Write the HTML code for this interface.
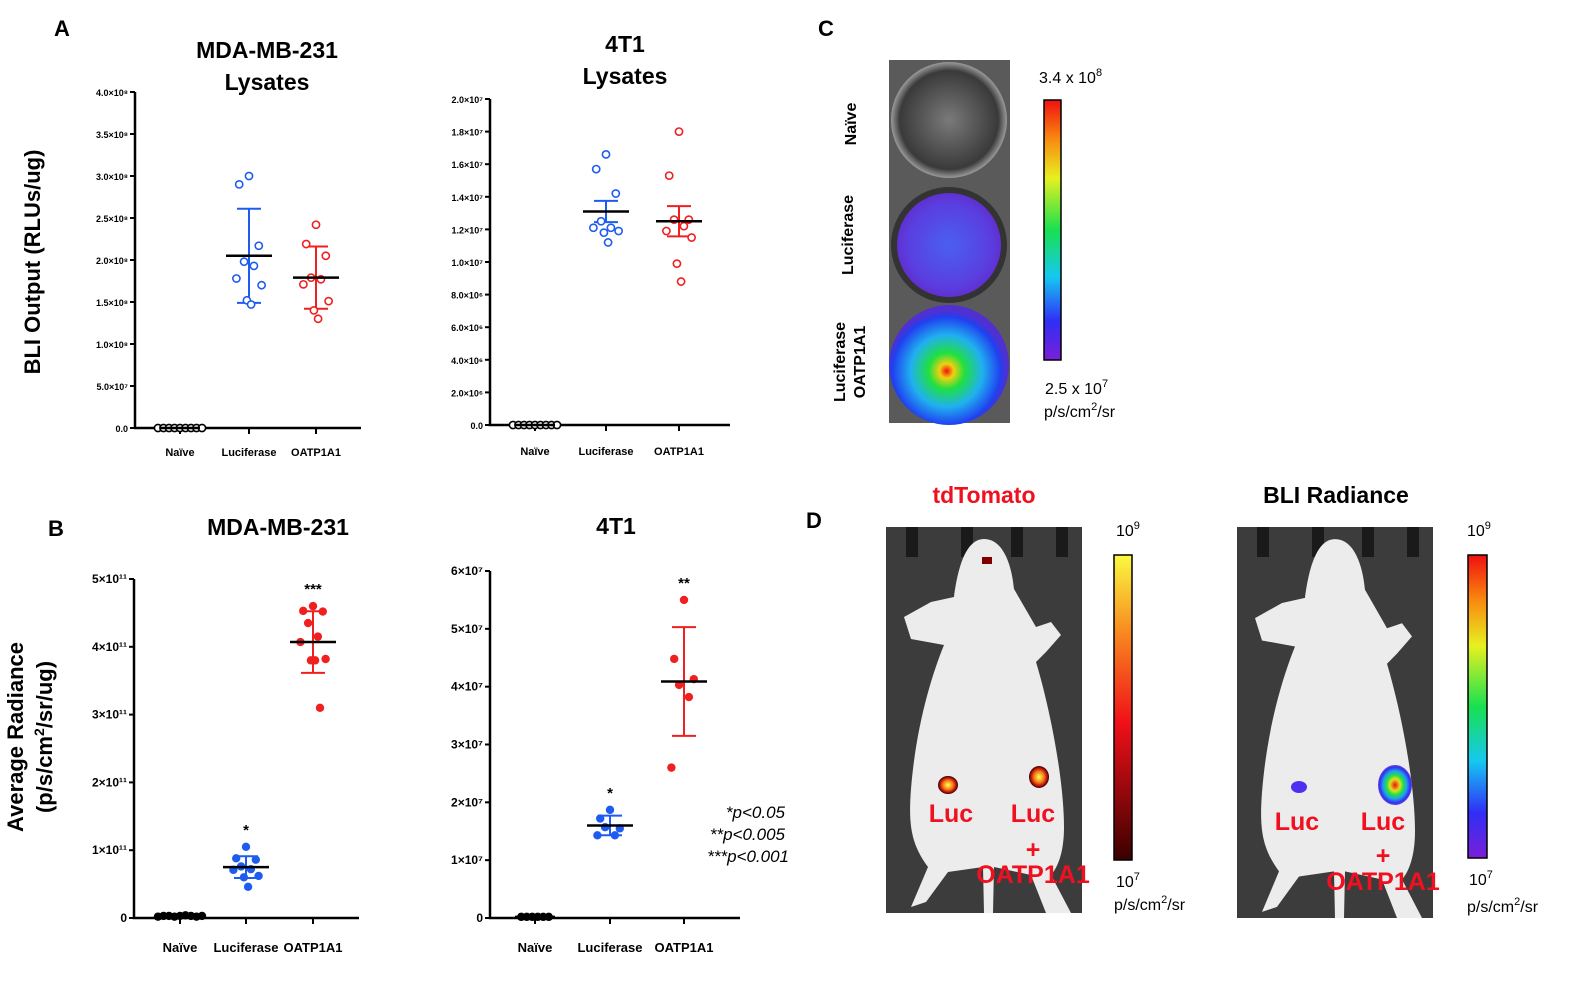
<!DOCTYPE html>
<html><head><meta charset="utf-8">
<style>
html,body{margin:0;padding:0;background:#fff;}
svg{display:block;font-family:"Liberation Sans",Arial,sans-serif;}
.tk{font-size:9px;font-weight:bold;}
.tkb{font-size:12px;font-weight:bold;}
.cat{font-size:11px;font-weight:bold;}
.catb{font-size:13px;font-weight:bold;}
.ttl{font-size:23px;font-weight:bold;}
.pl{font-size:22px;font-weight:bold;}
</style></head>
<body>
<svg id="fig" width="1582" height="986" viewBox="0 0 1582 986" xmlns="http://www.w3.org/2000/svg">
<defs>
<linearGradient id="rainbow" x1="0" y1="1" x2="0" y2="0">
<stop offset="0" stop-color="#7a1fd8"/><stop offset="0.15" stop-color="#2f2ff5"/><stop offset="0.32" stop-color="#16c8f0"/><stop offset="0.5" stop-color="#19e050"/><stop offset="0.7" stop-color="#e8f020"/><stop offset="0.85" stop-color="#f88a10"/><stop offset="1" stop-color="#f01010"/>
</linearGradient>
<linearGradient id="hot" x1="0" y1="1" x2="0" y2="0">
<stop offset="0" stop-color="#3a0000"/><stop offset="0.45" stop-color="#f01018"/><stop offset="0.75" stop-color="#f88a20"/><stop offset="1" stop-color="#fafa40"/>
</linearGradient>
<radialGradient id="wellB"><stop offset="0" stop-color="#4a60f0"/><stop offset="0.8" stop-color="#5a3ee0"/><stop offset="1" stop-color="#6030d0"/></radialGradient>
<radialGradient id="wellC" cx="0.48" cy="0.55"><stop offset="0" stop-color="#f01010"/><stop offset="0.12" stop-color="#f0d010"/><stop offset="0.3" stop-color="#20e040"/><stop offset="0.6" stop-color="#20b0f0"/><stop offset="0.9" stop-color="#2040f0"/><stop offset="1" stop-color="#5030d0"/></radialGradient>
<radialGradient id="wellA"><stop offset="0" stop-color="#7a7a7a"/><stop offset="0.85" stop-color="#3a3a3a"/><stop offset="1" stop-color="#9a9a9a"/></radialGradient>
<radialGradient id="spotHot"><stop offset="0" stop-color="#ffff60"/><stop offset="0.5" stop-color="#f08010"/><stop offset="0.8" stop-color="#c01010"/><stop offset="1" stop-color="#300000"/></radialGradient>
<radialGradient id="spotRb"><stop offset="0" stop-color="#f01010"/><stop offset="0.3" stop-color="#e0e020"/><stop offset="0.5" stop-color="#20e040"/><stop offset="0.7" stop-color="#20a0f0"/><stop offset="0.9" stop-color="#3030f0"/><stop offset="1" stop-color="#7040e0"/></radialGradient>
</defs>

<!-- Panel letters & titles -->
<text x="54" y="36" class="pl">A</text>
<text x="48" y="536" class="pl">B</text>
<text x="818" y="36" class="pl">C</text>
<text x="806" y="528" class="pl">D</text>

<text x="267" y="58" text-anchor="middle" class="ttl">MDA-MB-231</text>
<text x="267" y="90" text-anchor="middle" class="ttl">Lysates</text>
<text x="625" y="52" text-anchor="middle" class="ttl">4T1</text>
<text x="625" y="84" text-anchor="middle" class="ttl">Lysates</text>
<text x="278" y="535" text-anchor="middle" class="ttl">MDA-MB-231</text>
<text x="616" y="534" text-anchor="middle" class="ttl">4T1</text>

<text transform="translate(40,262) rotate(-90)" text-anchor="middle" style="font-size:22px;font-weight:bold">BLI Output (RLUs/ug)</text>
<text transform="translate(23,737) rotate(-90)" text-anchor="middle" style="font-size:22px;font-weight:bold">Average Radiance</text>
<text transform="translate(52,737) rotate(-90)" text-anchor="middle" style="font-size:22px;font-weight:bold">(p/s/cm<tspan dy="-8" font-size="14">2</tspan><tspan dy="8">/sr/ug)</tspan></text>

<g id="charts"></g>

<text x="785" y="818" text-anchor="end" style="font-size:17px;font-style:italic">*p&lt;0.05</text>
<text x="785" y="840" text-anchor="end" style="font-size:17px;font-style:italic">**p&lt;0.005</text>
<text x="789" y="862" text-anchor="end" style="font-size:17px;font-style:italic">***p&lt;0.001</text>

<!-- Panel C -->
<g>
<rect x="889" y="60" width="121" height="363" fill="#5a5a5a"/>
<circle cx="949" cy="120" r="58" fill="url(#wellA)"/>
<circle cx="949" cy="245" r="58" fill="#333"/>
<circle cx="949" cy="245" r="52" fill="url(#wellB)"/>
<circle cx="949" cy="365" r="60" fill="url(#wellC)"/>
</g>
<text transform="translate(856,124) rotate(-90)" text-anchor="middle" style="font-size:16px;font-weight:bold">Naïve</text>
<text transform="translate(853,235) rotate(-90)" text-anchor="middle" style="font-size:16px;font-weight:bold">Luciferase</text>
<text transform="translate(845,362) rotate(-90)" text-anchor="middle" style="font-size:16px;font-weight:bold">Luciferase</text>
<text transform="translate(865,362) rotate(-90)" text-anchor="middle" style="font-size:16px;font-weight:bold">OATP1A1</text>
<rect x="1044" y="100" width="17" height="260" fill="url(#rainbow)" stroke="#000" stroke-width="1.5"/>
<text x="1039" y="83" style="font-size:16px">3.4 x 10<tspan dy="-7" font-size="11">8</tspan></text>
<text x="1045" y="394" style="font-size:16px">2.5 x 10<tspan dy="-7" font-size="11">7</tspan></text>
<text x="1044" y="417" style="font-size:16px">p/s/cm<tspan dy="-7" font-size="11">2</tspan><tspan dy="7">/sr</tspan></text>

<!-- Panel D -->
<text x="984" y="503" text-anchor="middle" style="font-size:23px;font-weight:bold;fill:#f01020">tdTomato</text>
<text x="1336" y="503" text-anchor="middle" style="font-size:23px;font-weight:bold">BLI Radiance</text>
<g id="mice"></g>
<rect x="1114" y="555" width="18" height="305" fill="url(#hot)" stroke="#000" stroke-width="1.5"/>
<text x="1116" y="536" style="font-size:16px">10<tspan dy="-7" font-size="11">9</tspan></text>
<text x="1116" y="887" style="font-size:16px">10<tspan dy="-7" font-size="11">7</tspan></text>
<text x="1114" y="910" style="font-size:16px">p/s/cm<tspan dy="-7" font-size="11">2</tspan><tspan dy="7">/sr</tspan></text>
<rect x="1468" y="555" width="19" height="303" fill="url(#rainbow)" stroke="#000" stroke-width="1.5"/>
<text x="1467" y="536" style="font-size:16px">10<tspan dy="-7" font-size="11">9</tspan></text>
<text x="1469" y="885" style="font-size:16px">10<tspan dy="-7" font-size="11">7</tspan></text>
<text x="1467" y="912" style="font-size:16px">p/s/cm<tspan dy="-7" font-size="11">2</tspan><tspan dy="7">/sr</tspan></text>
</svg>

<script>
// ---- data ----
const categories = ["Naïve", "Luciferase", "OATP1A1"];
// A1 MDA-MB-231 lysates (x1e8)
const a1Naive = [0,0,0,0,0,0,0,0,0];
const a1Luc = [3.0,2.9,2.17,1.98,1.93,1.78,1.70,1.52,1.47];
const a1Oatp = [2.42,2.19,2.05,1.79,1.77,1.71,1.51,1.40,1.30];
const a1Mean = [0, 2.05, 1.79];
const a1Err = [0, 0.56, 0.37];
const a1Ticks = ["0.0","5.0×10⁷","1.0×10⁸","1.5×10⁸","2.0×10⁸","2.5×10⁸","3.0×10⁸","3.5×10⁸","4.0×10⁸"];
// A2 4T1 lysates (x1e7)
const a2Naive = [0,0,0,0,0,0,0,0,0];
const a2Luc = [1.66,1.57,1.42,1.25,1.21,1.21,1.19,1.18,1.12];
const a2Oatp = [1.80,1.53,1.26,1.26,1.22,1.19,1.15,0.99,0.88];
const a2Mean = [0, 1.31, 1.25];
const a2Err = [0, 0.065, 0.093];
const a2Ticks = ["0.0","2.0×10⁶","4.0×10⁶","6.0×10⁶","8.0×10⁶","1.0×10⁷","1.2×10⁷","1.4×10⁷","1.6×10⁷","1.8×10⁷","2.0×10⁷"];
// B1 MDA-MB-231 radiance (x1e11)
const b1Naive = [0.02,0.03,0.03,0.02,0.03,0.04,0.03,0.02,0.03];
const b1Luc = [1.05,0.88,0.86,0.76,0.72,0.71,0.62,0.60,0.46];
const b1Oatp = [4.60,4.53,4.52,4.35,4.15,4.07,3.82,3.80,3.80,3.10];
const b1Mean = [0.03, 0.75, 4.07];
const b1Err = [0, 0.16, 0.455];
const b1Ticks = ["0","1×10¹¹","2×10¹¹","3×10¹¹","4×10¹¹","5×10¹¹"];
const b1Stars = ["", "*", "***"];
// B2 4T1 radiance (x1e7)
const b2Naive = [0.02,0.02,0.02,0.02,0.02,0.02];
const b2Luc = [1.87,1.72,1.55,1.57,1.43,1.43];
const b2Oatp = [5.5,4.48,4.13,4.03,3.82,2.6];
const b2Mean = [0.02, 1.60, 4.09];
const b2Err = [0, 0.17, 0.94];
const b2Ticks = ["0","1×10⁷","2×10⁷","3×10⁷","4×10⁷","5×10⁷","6×10⁷"];
const b2Stars = ["", "*", "**"];

const NS = "http://www.w3.org/2000/svg";
const root = document.getElementById("charts");
function mk(tag, attrs, parent){ const e=document.createElementNS(NS,tag); for(const k in attrs) e.setAttribute(k,attrs[k]); (parent||root).appendChild(e); return e; }
const jitterPat = [0,-14,14,-7,7,-18,18,-3,3,10];
const colors = ["#000","#1e5cf0","#f02020"];

function chart(name, cfg){
  const g = mk("g",{});
  
  
  const {x0,x1,y0,y1,max,ticks,cx,series,mean,err,filled,tickCls,catCls,catY,stars} = cfg;
  const ys = v => y0 - v/max*(y0-y1);
  const ax = mk("path",{d:`M${x0},${y1} V${y0} H${x1}`,stroke:"#000","stroke-width":2.5,fill:"none"},g);
  
  
  ticks.forEach((t,i)=>{
    const v = i*max/(ticks.length-1), y=ys(v);
    mk("line",{x1:x0-5,x2:x0,y1:y,y2:y,stroke:"#000","stroke-width":2},g);
    const m = t.match(/^(.*×10)(.*)$/);
    const tx = mk("text",{x:x0-7,y:y+4,"text-anchor":"end",class:tickCls},g);
    
    
    tx.textContent = t;
  });
  categories.forEach((c,i)=>{
    mk("line",{x1:cx[i],x2:cx[i],y1:y0,y2:y0+6,stroke:"#000","stroke-width":2},g);
    const tx = mk("text",{x:cx[i],y:catY,"text-anchor":"middle",class:catCls},g);
    
    
    tx.textContent = c;
  });
  series.forEach((s,i)=>{
    const col = colors[i];
    if(i>0){
      const e1=ys(mean[i]+err[i]), e2=ys(mean[i]-err[i]);
      mk("line",{x1:cx[i],x2:cx[i],y1:e1,y2:e2,stroke:col,"stroke-width":2},g);
      mk("line",{x1:cx[i]-12,x2:cx[i]+12,y1:e1,y2:e1,stroke:col,"stroke-width":2},g);
      mk("line",{x1:cx[i]-12,x2:cx[i]+12,y1:e2,y2:e2,stroke:col,"stroke-width":2},g);
    }
    s.forEach((v,j)=>{
      const off = i===0 ? (j-(s.length-1)/2)*(i===0?5.5:1) : jitterPat[j%jitterPat.length]*0.7;
      const p = mk("circle",{cx:cx[i]+off,cy:ys(v),r:filled?4.2:3.6,fill:filled?col:"#fff",stroke:col,"stroke-width":filled?0:1.6},g);
      
      
    });
    const ml = mk("line",{x1:cx[i]-(i===0?20:23),x2:cx[i]+(i===0?20:23),y1:ys(mean[i]),y2:ys(mean[i]),stroke:"#000","stroke-width":2.5},g);
    
    
    if(stars && stars[i]){
      const top = Math.max(...s);
      const st = mk("text",{x:cx[i],y:ys(top)-12,"text-anchor":"middle",style:"font-size:15px;font-weight:bold"},g);
      
      
      st.textContent = stars[i];
    }
  });
}
chart("chart-a1-mda-lysates",{x0:135,x1:361,y0:428,y1:92,max:4,ticks:a1Ticks,cx:[180,249,316],series:[a1Naive,a1Luc,a1Oatp],mean:a1Mean,err:a1Err,filled:false,tickCls:"tk",catCls:"cat",catY:456});
chart("chart-a2-4t1-lysates",{x0:490,x1:730,y0:425,y1:99,max:2,ticks:a2Ticks,cx:[535,606,679],series:[a2Naive,a2Luc,a2Oatp],mean:a2Mean,err:a2Err,filled:false,tickCls:"tk",catCls:"cat",catY:455});
chart("chart-b1-mda-radiance",{x0:134,x1:359,y0:918,y1:579,max:5,ticks:b1Ticks,cx:[180,246,313],series:[b1Naive,b1Luc,b1Oatp],mean:b1Mean,err:b1Err,filled:true,tickCls:"tkb",catCls:"catb",catY:952,stars:b1Stars});
chart("chart-b2-4t1-radiance",{x0:490,x1:740,y0:918,y1:571,max:6,ticks:b2Ticks,cx:[535,610,684],series:[b2Naive,b2Luc,b2Oatp],mean:b2Mean,err:b2Err,filled:true,tickCls:"tkb",catCls:"catb",catY:952,stars:b2Stars});

// mice
const mice = document.getElementById("mice");
const body = "M98,12 C118,12 126,40 128,62 L150,100 L165,95 L175,108 L160,125 L150,135 C165,185 178,255 178,300 C178,325 172,340 165,348 L185,386 L160,386 L145,348 L108,340 L107,386 L98,386 L97,340 L62,345 L40,375 L25,380 L42,340 C26,318 22,300 25,262 C30,200 45,150 58,118 L25,112 L18,90 L45,75 L68,70 C72,40 80,12 98,12 Z";
function mouse(x,y,w,h,name,spot){
  const g = mk("g",{transform:`translate(${x},${y})`},mice);
  
  
  mk("rect",{x:0,y:0,width:w,height:h,fill:"#3c3c3c"},g);
  [20,75,125,170].forEach(px=>mk("rect",{x:px,y:0,width:12,height:30,fill:"#1a1a1a"},g));
  mk("path",{d:body,fill:"#ececec",transform:`scale(${w/196},${h/386})`},g);
  return g;
}
const m1 = mouse(886,527,196,386,"mouse-tdtomato");
mk("ellipse",{cx:62,cy:258,rx:10,ry:9,fill:"url(#spotHot)"},m1);
mk("ellipse",{cx:153,cy:250,rx:10,ry:11,fill:"url(#spotHot)"},m1);
mk("rect",{x:96,y:30,width:10,height:7,fill:"#800000"},m1);
const m2 = mouse(1237,527,196,391,"mouse-bli");
mk("ellipse",{cx:62,cy:260,rx:8,ry:6,fill:"#5030f0"},m2);
mk("ellipse",{cx:158,cy:258,rx:17,ry:20,fill:"url(#spotRb)"},m2);
function lbl(x,y,t,name){const e=mk("text",{x:x,y:y,"text-anchor":"middle",style:"font-size:25px;font-weight:bold;fill:#f01020"},mice);


e.textContent=t;}
lbl(951,822,"Luc","label-luc-1");lbl(1033,822,"Luc","label-luc-oatp-1");lbl(1033,858,"+","label-plus-1");lbl(1033,883,"OATP1A1","label-oatp-1");
lbl(1297,830,"Luc","label-luc-2");lbl(1383,830,"Luc","label-luc-oatp-2");lbl(1383,864,"+","label-plus-2");lbl(1383,890,"OATP1A1","label-oatp-2");
</script>
</body></html>
